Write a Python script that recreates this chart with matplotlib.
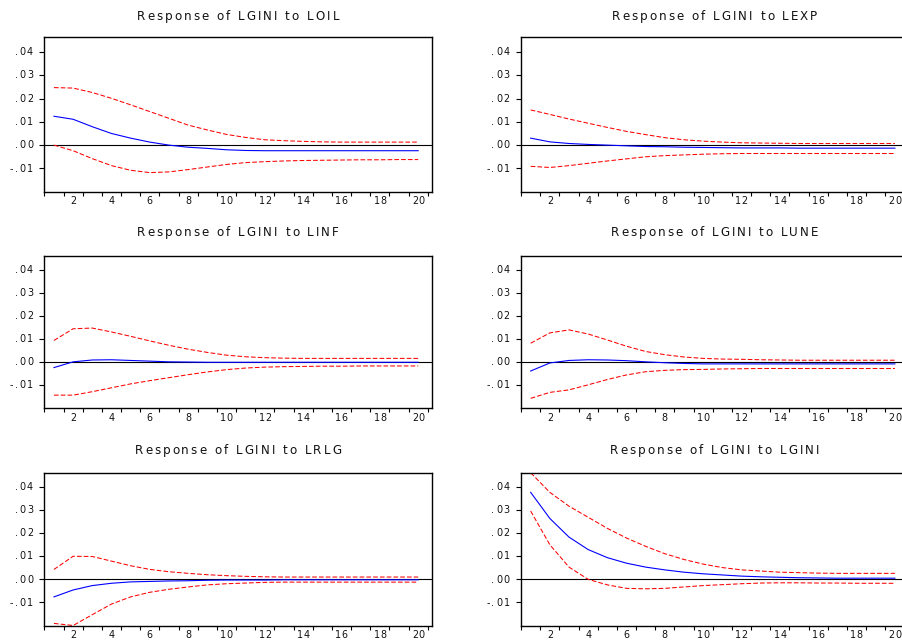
import matplotlib
matplotlib.use("Agg")
import matplotlib.pyplot as plt
from matplotlib.ticker import FixedLocator, NullFormatter
from matplotlib.font_manager import findfont, FontProperties, get_font

plt.rcParams['font.family'] = ['DejaVu Sans']

periods = list(range(1, 21))

titles = ["Response of LGINI to LOIL", "Response of LGINI to LEXP",
          "Response of LGINI to LINF", "Response of LGINI to LUNE",
          "Response of LGINI to LRLG", "Response of LGINI to LGINI"]

loil_resp = [0.0124, 0.0111, 0.0079, 0.0050, 0.0030, 0.0013, 0.0000, -0.0009, -0.0014, -0.0020,
             -0.0023, -0.0024, -0.0024, -0.0024, -0.0024, -0.0024, -0.0024, -0.0024, -0.0024, -0.0024]
loil_up = [0.0247, 0.0245, 0.0226, 0.0201, 0.0173, 0.0144, 0.0115, 0.0086, 0.0065, 0.0046,
           0.0033, 0.0023, 0.0019, 0.0016, 0.0014, 0.0013, 0.0013, 0.0013, 0.0013, 0.0013]
loil_lo = [0.0000, -0.0024, -0.0058, -0.0088, -0.0108, -0.0118, -0.0115, -0.0105, -0.0094, -0.0083,
           -0.0075, -0.0071, -0.0068, -0.0066, -0.0065, -0.0064, -0.0063, -0.0063, -0.0062, -0.0062]

lexp_resp = [0.0030, 0.0014, 0.0007, 0.0003, 0.0000, -0.0003, -0.0006, -0.0007, -0.0009, -0.0010,
             -0.0011, -0.0012, -0.0012, -0.0012, -0.0013, -0.0013, -0.0013, -0.0013, -0.0013, -0.0013]
lexp_up = [0.0151, 0.0132, 0.0112, 0.0094, 0.0076, 0.0059, 0.0045, 0.0032, 0.0023, 0.0017,
           0.0013, 0.0010, 0.0009, 0.0008, 0.0007, 0.0007, 0.0007, 0.0007, 0.0007, 0.0007]
lexp_lo = [-0.0091, -0.0096, -0.0088, -0.0078, -0.0068, -0.0059, -0.0050, -0.0045, -0.0042, -0.0039,
           -0.0037, -0.0036, -0.0036, -0.0036, -0.0036, -0.0036, -0.0036, -0.0036, -0.0036, -0.0036]

linf_resp = [-0.0024, 0.0001, 0.0009, 0.0010, 0.0007, 0.0004, 0.0001, 0.0000, -0.0001, -0.0001,
             -0.0001, -0.0001, -0.0001, -0.0001, -0.0001, -0.0001, -0.0001, -0.0001, -0.0001, -0.0001]
linf_up = [0.0094, 0.0145, 0.0148, 0.0131, 0.0112, 0.0092, 0.0073, 0.0056, 0.0042, 0.0030,
           0.0023, 0.0019, 0.0017, 0.0016, 0.0016, 0.0016, 0.0016, 0.0016, 0.0016, 0.0016]
linf_lo = [-0.0144, -0.0144, -0.0129, -0.0112, -0.0095, -0.0081, -0.0068, -0.0055, -0.0043, -0.0033,
           -0.0026, -0.0022, -0.0020, -0.0019, -0.0018, -0.0018, -0.0017, -0.0017, -0.0017, -0.0017]

lune_resp = [-0.0039, -0.0004, 0.0007, 0.0010, 0.0009, 0.0006, 0.0001, -0.0003, -0.0006, -0.0008,
             -0.0008, -0.0008, -0.0008, -0.0008, -0.0008, -0.0008, -0.0008, -0.0008, -0.0008, -0.0008]
lune_up = [0.0082, 0.0127, 0.0140, 0.0122, 0.0096, 0.0069, 0.0046, 0.0032, 0.0022, 0.0016,
           0.0013, 0.0012, 0.0010, 0.0009, 0.0008, 0.0008, 0.0008, 0.0008, 0.0008, 0.0008]
lune_lo = [-0.0158, -0.0132, -0.0121, -0.0099, -0.0076, -0.0056, -0.0042, -0.0036, -0.0033, -0.0032,
           -0.0030, -0.0029, -0.0028, -0.0028, -0.0028, -0.0028, -0.0028, -0.0028, -0.0028, -0.0028]

lrlg_resp = [-0.0076, -0.0046, -0.0027, -0.0017, -0.0011, -0.0009, -0.0007, -0.0006, -0.0004, -0.0003,
             -0.0003, -0.0003, -0.0002, -0.0002, -0.0002, -0.0002, -0.0002, -0.0002, -0.0002, -0.0002]
lrlg_up = [0.0043, 0.0100, 0.0099, 0.0079, 0.0059, 0.0043, 0.0033, 0.0026, 0.0020, 0.0016,
           0.0013, 0.0011, 0.0010, 0.0010, 0.0010, 0.0010, 0.0010, 0.0010, 0.0010, 0.0010]
lrlg_lo = [-0.0191, -0.0200, -0.0153, -0.0107, -0.0076, -0.0056, -0.0043, -0.0033, -0.0024, -0.0019,
           -0.0016, -0.0013, -0.0012, -0.0012, -0.0012, -0.0012, -0.0012, -0.0012, -0.0012, -0.0012]

lgini_resp = [0.0377, 0.0264, 0.0183, 0.0129, 0.0094, 0.0070, 0.0053, 0.0041, 0.0031, 0.0024,
              0.0019, 0.0014, 0.0011, 0.0009, 0.0007, 0.0006, 0.0005, 0.0005, 0.0005, 0.0005]
lgini_up = [0.0462, 0.0377, 0.0317, 0.0269, 0.0221, 0.0179, 0.0143, 0.0111, 0.0086, 0.0066,
            0.0051, 0.0041, 0.0036, 0.0031, 0.0029, 0.0027, 0.0026, 0.0026, 0.0026, 0.0026]
lgini_lo = [0.0296, 0.0150, 0.0053, 0.0000, -0.0024, -0.0039, -0.0041, -0.0039, -0.0033, -0.0027,
            -0.0023, -0.0019, -0.0016, -0.0015, -0.0015, -0.0016, -0.0016, -0.0017, -0.0017, -0.0017]

panels = [(loil_resp, loil_up, loil_lo), (lexp_resp, lexp_up, lexp_lo),
          (linf_resp, linf_up, linf_lo), (lune_resp, lune_up, lune_lo),
          (lrlg_resp, lrlg_up, lrlg_lo), (lgini_resp, lgini_up, lgini_lo)]

y_ticks = [-0.01, 0.00, 0.01, 0.02, 0.03, 0.04]
y_tick_labels = ["-.01", ".00", ".01", ".02", ".03", ".04"]
x_labels = [2, 4, 6, 8, 10, 12, 14, 16, 18, 20]

W, H = 902, 643
DPI = 100
fig = plt.figure(figsize=(W / DPI, H / DPI), dpi=DPI)

XMIN, XMAX = 0.48, 20.72
YMIN, YMAX = -0.0200, 0.0463

col_left = [44, 520.7]
ax_w = 388
rows = [(37.3, 191.7), (255.7, 408.0), (472.5, 625.5)]
title_base = [19.8, 235.8, 454.0]

FAMILY = 'DejaVu Sans'
FONT = get_font(findfont(FontProperties(family=FAMILY)))


def advances(s, size):
    FONT.set_size(size, DPI)
    out = []
    for ch in s:
        g = FONT.load_char(ord(ch))
        out.append(g.linearHoriAdvance / 65536.0)
    return out


def spaced_text(x_px, y_px, s, size, track, ha='center', color='#111111'):
    """Draw text with letter spacing; x_px/y_px in figure pixels from top-left, y is baseline."""
    adv = advances(s, size)
    total = sum(adv) + track * (len(s) - 1)
    if ha == 'center':
        start = x_px - total / 2
    elif ha == 'right':
        start = x_px - total
    else:
        start = x_px
    cur = start
    for ch, a in zip(s, adv):
        if ch != ' ':
            fig.text((cur + a / 2) / W, 1 - y_px / H, ch, ha='center', va='baseline',
                     fontsize=size, color=color, family=FAMILY)
        cur += a + track


TITLE_SIZE = 8.6
title_track = (202 - sum(advances(titles[0], TITLE_SIZE))) / (len(titles[0]) - 1)

for i, (title, (resp, up, lo)) in enumerate(zip(titles, panels)):
    r, c = divmod(i, 2)
    top, bot = rows[r]
    left = col_left[c]
    ax = fig.add_axes([left / W, 1 - bot / H, ax_w / W, (bot - top) / H])
    ax.axhline(0, color='black', lw=0.8, zorder=1)
    ax.plot(periods, up, color='#ff0000', lw=0.75, ls=(0, (4.5, 2.0)), zorder=2)
    ax.plot(periods, lo, color='#ff0000', lw=0.75, ls=(0, (4.5, 2.0)), zorder=2)
    ax.plot(periods, resp, color='#0000ff', lw=0.8, zorder=3)
    ax.set_xlim(XMIN, XMAX)
    ax.set_ylim(YMIN, YMAX)
    ax.xaxis.set_major_locator(FixedLocator([p + 0.5 for p in range(0, 21)]))
    ax.xaxis.set_major_formatter(NullFormatter())
    ax.yaxis.set_major_locator(FixedLocator(y_ticks))
    ax.yaxis.set_major_formatter(NullFormatter())
    ax.tick_params(axis='x', which='major', length=3.1, width=0.8, direction='out')
    ax.tick_params(axis='y', which='major', length=3.6, width=0.8, direction='out')
    for sp in ax.spines.values():
        sp.set_linewidth(1.0)
        sp.set_color('black')

    # title
    spaced_text(left + ax_w / 2, title_base[r], title, TITLE_SIZE, title_track)

    # y tick labels
    hgt = bot - top
    for v, lab in zip(y_ticks, y_tick_labels):
        ypx = top + (YMAX - v) / (YMAX - YMIN) * hgt
        spaced_text(left - 11, ypx + 3.2, lab, 6.9, 1.5, ha='right')

    # x tick labels
    for xv in x_labels:
        xpx = left + (xv - XMIN) / (XMAX - XMIN) * ax_w
        spaced_text(xpx, bot + 12.6, str(xv), 6.9, 0.4, ha='center')

fig.savefig("out.png", dpi=DPI)
